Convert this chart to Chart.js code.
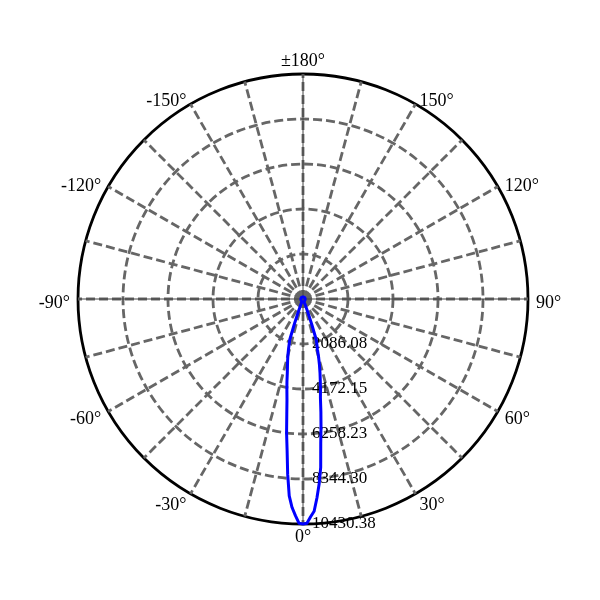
<!DOCTYPE html>
<html>
<head>
<meta charset="utf-8">
<script src="https://cdn.jsdelivr.net/npm/chart.js@4.4.1/dist/chart.umd.min.js"></script>
<style>
  html, body { margin: 0; padding: 0; background: #fff; }
  #wrap { width: 600px; height: 600px; }
</style>
</head>
<body>
<div id="wrap"><canvas id="polar" width="600" height="600"></canvas></div>
<script>
// luminous intensity readings: photometric angle (deg) -> cd
const beamAngles = [-150, -120, -90, -60, -45, -30, -25, -22, -21, -20, -19, -18, -17, -16, -15, -14, -13, -12, -11, -10,
  -9, -8, -7, -6, -5, -4, -3, -2, -1, 0, 1, 2, 3, 4, 5, 6, 7, 8, 9,
  10, 11, 12, 13, 14, 15, 16, 17, 18, 19, 20, 21, 22, 25, 30, 45, 60, 90, 120, 150, 180];
const beamCandela = [100, 100, 100, 105, 110, 115, 130, 180, 350, 700, 1250, 2000, 2200, 2450, 2700, 2950, 3200, 3500, 3900, 4300,
  4750, 5400, 6250, 7050, 8150, 9150, 9680, 10050, 10400, 10430, 10400, 10100, 9850, 9250, 8600, 7850, 6750, 6000, 5300,
  4650, 4250, 3850, 3500, 3150, 2800, 2420, 2200, 2000, 1250, 680, 330, 170, 130, 115, 110, 105, 100, 100, 100, 100];

const ringValues = [2086.08, 4172.15, 6258.23, 8344.30, 10430.38];
const angleLabels = ['±180°', '150°', '120°', '90°', '60°', '30°', '0°', '-30°', '-60°', '-90°', '-120°', '-150°'];
const R_MAX = 10430.38;

// one radar category per degree, clockwise from the top: 180 .. -179
const categories = [];
for (let a = 180; a > -180; a--) categories.push(a);

const lookup = {};
beamAngles.forEach((a, k) => { lookup[a] = beamCandela[k]; });
const series = categories.map(a => (a in lookup ? lookup[a] : null));

const SERIF = '"Liberation Serif", "Times New Roman", serif';

const polarDecor = {
  id: 'polarDecor',
  beforeDatasetsDraw(chart) {
    const scale = chart.scales.r;
    const ctx = chart.ctx;
    const R = scale.drawingArea;
    const cx = scale.xCenter, cy = scale.yCenter;
    ctx.save();

    // thin solid axis lines over the dashes
    ctx.strokeStyle = '#444';
    ctx.lineWidth = 1;
    [0, 90, 180, 270].forEach(i => {
      const p = scale.getPointPosition(i, R);
      ctx.beginPath();
      ctx.moveTo(cx, cy);
      ctx.lineTo(p.x, p.y);
      ctx.stroke();
    });

    // ring values along the 0° direction
    ctx.fillStyle = '#000';
    ctx.font = '17px ' + SERIF;
    ctx.textAlign = 'left';
    ctx.textBaseline = 'middle';
    ringValues.forEach(v => {
      const d = scale.getDistanceFromCenterForValue(v);
      ctx.fillText(v.toFixed(2), cx + 9, cy + d);
    });

    // angle labels every 30°
    ctx.font = '18px ' + SERIF;
    angleLabels.forEach((txt, k) => {
      const i = k * 30;
      if (i === 0 || i === 180) {
        const p = scale.getPointPosition(i, R + 4);
        ctx.textAlign = 'center';
        ctx.textBaseline = i === 0 ? 'bottom' : 'top';
        ctx.fillText(txt, p.x, p.y);
      } else {
        const p = scale.getPointPosition(i, R + 8);
        ctx.textAlign = i < 180 ? 'left' : 'right';
        ctx.textBaseline = 'middle';
        ctx.fillText(txt, p.x, p.y + 4);
      }
    });
    ctx.restore();
  }
};

new Chart(document.getElementById('polar'), {
  type: 'radar',
  data: {
    labels: categories,
    datasets: [{
      data: series,
      borderColor: '#0000ff',
      borderWidth: 3,
      borderJoinStyle: 'round',
      fill: false,
      pointRadius: 0,
      pointHoverRadius: 0,
      spanGaps: true,
      tension: 0,
      clip: false
    }]
  },
  options: {
    responsive: false,
    animation: false,
    layout: { padding: { left: 78, right: 72, top: 74, bottom: 76 } },
    plugins: {
      legend: { display: false },
      tooltip: { enabled: false }
    },
    scales: {
      r: {
        min: 0,
        max: R_MAX,
        startAngle: 0,
        afterBuildTicks: s => { s.ticks = [0].concat(ringValues).map(v => ({ value: v })); },
        ticks: { display: false },
        pointLabels: { display: false },
        grid: {
          circular: true,
          color: c => c.index === ringValues.length ? '#000' : '#666',
          lineWidth: 2.8
        },
        border: { dash: c => c.index === ringValues.length ? [] : [9, 4] },
        angleLines: {
          color: '#666',
          lineWidth: c => c.index % 15 === 0 ? 2.8 : 0,
          borderDash: [9, 4]
        }
      }
    }
  },
  plugins: [polarDecor]
});
</script>
</body>
</html>
